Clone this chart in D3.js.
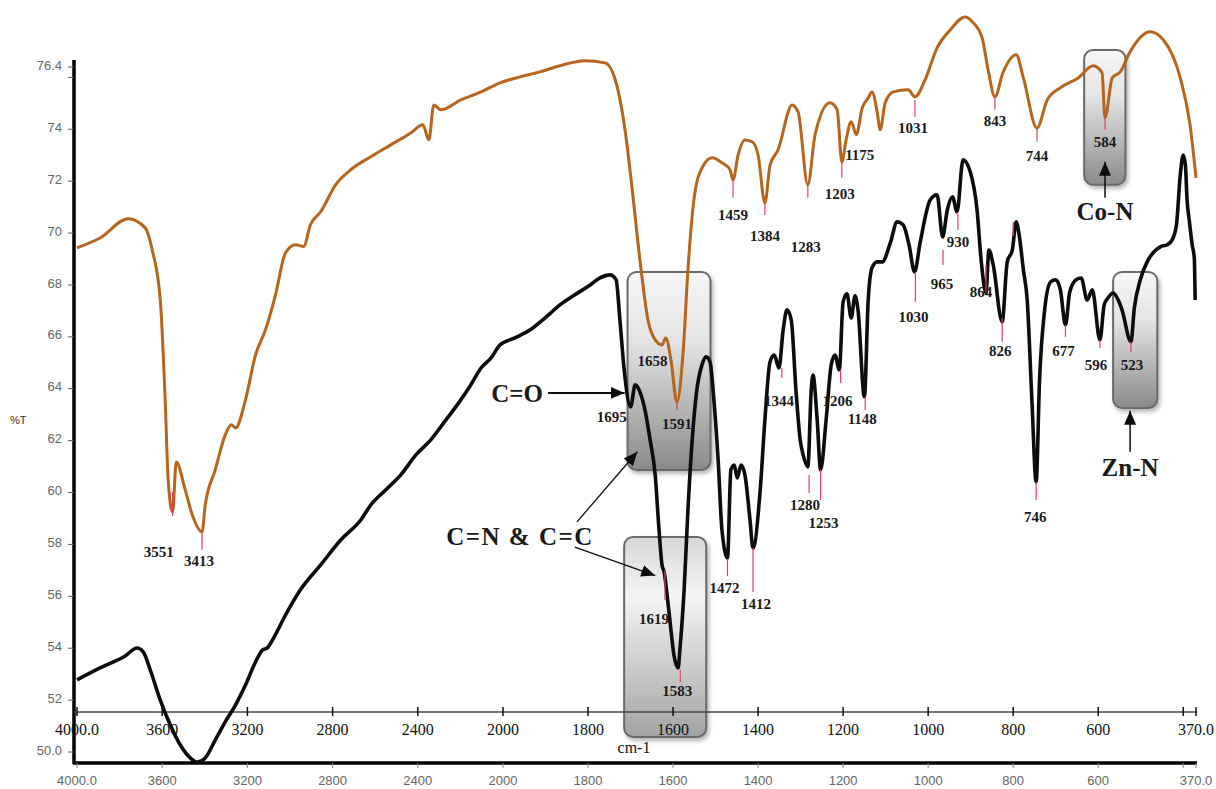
<!DOCTYPE html>
<html>
<head>
<meta charset="utf-8">
<script src="https://cdn.jsdelivr.net/npm/d3@7"></script>
<style>
  body { margin: 0; background: #fff; }
  svg { display: block; }
</style>
</head>
<body>
<div id="chart"></div>
<script>
const COLORS = {
    ORANGE: "#b5651d",
    BLACK: "#0d0d0d",
    PEAK_TICK: "#e0435e",
    LABEL: "#1a1a1a",
    AXIS_GRAY: "#5a5a5a",
    BOX_STROKE: "#6b6b6b"
};

// spectrum 1 (orange, upper) : [wavenumber cm-1, %T]
const orangeSpectrum = [
    [4000,69.43],[3892,69.81],[3760,70.55],[3680,70.20],[3647,69.35],[3609,67.42],[3586,63.57],[3572,60.49],
    [3551,59.25],[3534,61.18],[3492,60.10],[3459,59.14],[3413,58.48],[3398,59.52],[3351,60.87],[3304,62.22],
    [3275,62.61],[3256,62.49],[3209,63.57],[3162,65.30],[3115,66.27],[3068,67.62],[3021,69.24],[2974,69.55],
    [2936,69.48],[2904,70.32],[2856,70.82],[2786,71.86],[2715,72.44],[2621,72.94],[2527,73.40],[2433,73.86],
    [2376,74.17],[2348,73.59],[2325,74.94],[2292,74.75],[2198,75.13],[2103,75.44],[2014,75.79],[1960,76.02],
    [1913,76.21],[1866,76.45],[1807,76.64],[1760,76.56],[1736,75.91],[1713,73.98],[1696,71.67],[1678,68.97],
    [1659,66.65],[1642,65.88],[1626,65.69],[1617,65.96],[1605,65.11],[1591,63.49],[1576,65.50],[1565,68.58],
    [1551,71.28],[1532,72.51],[1508,72.90],[1485,72.71],[1466,72.44],[1459,72.05],[1447,73.01],[1431,73.59],
    [1414,73.52],[1400,73.01],[1384,71.16],[1372,72.61],[1353,73.21],[1320,74.94],[1306,74.67],[1283,71.86],
    [1266,73.79],[1231,75.02],[1214,74.75],[1203,72.74],[1193,73.59],[1181,74.29],[1169,73.79],[1155,74.83],
    [1141,75.21],[1132,75.44],[1120,74.67],[1113,73.98],[1101,75.02],[1082,75.44],[1047,75.52],[1031,75.25],
    [1007,75.91],[979,77.14],[948,77.83],[913,78.33],[896,78.14],[873,77.52],[859,76.29],[843,75.25],
    [824,76.18],[793,76.87],[776,75.98],[744,74.05],[720,75.13],[689,75.60],[647,75.98],[612,76.45],
    [591,76.18],[584,74.44],[567,75.98],[548,76.21],[525,76.99],[478,77.76],[447,77.45],[407,75.98],
    [384,74.17],[370,72.13]
];

// spectrum 2 (black, lower)
const blackSpectrum = [
    [4000,52.78],[3892,53.24],[3774,53.70],[3718,54.01],[3689,53.86],[3656,53.16],[3609,52.00],[3562,51.04],
    [3515,50.27],[3468,49.77],[3435,49.61],[3398,49.77],[3351,50.46],[3304,51.16],[3256,51.81],[3209,52.58],
    [3162,53.47],[3129,53.93],[3106,54.01],[3082,54.32],[3021,55.28],[2951,56.25],[2856,57.21],[2762,58.17],
    [2668,58.94],[2621,59.52],[2551,60.10],[2480,60.68],[2409,61.45],[2339,62.03],[2268,62.80],[2198,63.57],
    [2151,64.15],[2103,64.80],[2056,65.19],[2014,65.69],[1972,65.96],[1936,66.27],[1901,66.73],[1866,67.23],
    [1831,67.62],[1795,68.00],[1772,68.27],[1748,68.39],[1734,68.20],[1725,66.65],[1715,64.73],[1700,63.30],
    [1689,64.15],[1678,63.88],[1666,63.18],[1654,62.03],[1642,60.68],[1633,58.56],[1626,57.21],[1621,56.94],
    [1614,56.05],[1605,54.70],[1598,53.74],[1588,53.24],[1584,53.93],[1574,56.25],[1565,59.33],[1555,62.03],
    [1544,63.96],[1532,64.92],[1522,65.23],[1513,65.03],[1504,63.57],[1494,61.26],[1485,58.56],[1472,57.48],
    [1464,60.87],[1456,61.06],[1449,60.56],[1440,61.06],[1431,60.68],[1419,58.94],[1412,57.86],[1395,60.10],
    [1384,62.80],[1372,65.03],[1362,65.30],[1351,64.80],[1341,66.27],[1332,67.04],[1322,66.65],[1311,63.96],
    [1301,62.03],[1294,61.45],[1283,60.99],[1275,63.96],[1271,64.53],[1261,62.80],[1253,60.87],[1240,62.80],
    [1228,64.92],[1219,65.30],[1209,64.73],[1200,67.35],[1191,67.66],[1181,66.73],[1172,67.58],[1165,67.04],
    [1150,63.69],[1141,67.42],[1132,68.66],[1120,68.89],[1108,68.89],[1089,69.62],[1073,70.43],[1059,70.32],
    [1045,69.55],[1032,68.50],[1019,69.62],[995,71.28],[979,71.47],[966,69.85],[955,70.89],[943,71.40],
    [932,70.82],[918,72.82],[901,72.36],[885,70.89],[875,68.89],[864,67.69],[857,69.35],[847,68.77],
    [826,66.58],[814,68.89],[802,69.35],[793,70.43],[786,69.93],[776,68.58],[767,67.42],[756,63.57],
    [746,60.41],[738,64.34],[726,67.04],[712,68.12],[700,68.20],[689,67.81],[677,66.46],[667,67.73],
    [652,68.20],[640,68.27],[626,67.42],[614,67.81],[596,65.88],[586,67.23],[577,67.50],[565,67.69],
    [553,67.42],[544,67.04],[523,65.81],[515,67.12],[501,68.20],[485,68.89],[471,69.24],[454,69.47],
    [438,69.55],[426,69.74],[416,70.32],[407,72.24],[400,73.01],[395,72.63],[391,71.28],[386,70.51],
    [379,69.55],[374,69.04],[372,67.42]
];

// peak marks: wavenumber, red tick from/to (%T), label %T, label shift
const orangePeaks = [
    {wn: 3551, top: 60.02, bottom: 59.10, labelT: 57.52, dx: -14},
    {wn: 3413, top: 58.48, bottom: 57.79, labelT: 57.17, dx: -3},
    {wn: 1658, top: null,  bottom: null,  labelT: 64.88, dx: 4},
    {wn: 1591, top: 63.49, bottom: 63.18, labelT: 62.45, dx: 0},
    {wn: 1459, top: 72.05, bottom: 71.36, labelT: 70.51, dx: 0},
    {wn: 1384, top: 71.16, bottom: 70.70, labelT: 69.70, dx: 0},
    {wn: 1283, top: 71.86, bottom: 71.36, labelT: 69.28, dx: -2},
    {wn: 1203, top: 72.74, bottom: 72.13, labelT: 71.32, dx: -2},
    {wn: 1175, top: null,  bottom: null,  labelT: 72.82, dx: 6},
    {wn: 1031, top: 75.13, bottom: 74.48, labelT: 73.86, dx: -2},
    {wn: 843,  top: 75.25, bottom: 74.75, labelT: 74.13, dx: 0},
    {wn: 744,  top: 74.05, bottom: 73.52, labelT: 72.78, dx: 0},
    {wn: 584,  top: 74.44, bottom: 73.98, labelT: 73.32, dx: 0}
];

const blackPeaks = [
    {wn: 1695, top: null,  bottom: null,  labelT: 62.72, dx: -21},
    {wn: 1619, top: 57.02, bottom: 55.86, labelT: 54.93, dx: -11},
    {wn: 1583, top: 53.16, bottom: 52.70, labelT: 52.16, dx: -3},
    {wn: 1472, top: 57.40, bottom: 56.78, labelT: 56.13, dx: -3},
    {wn: 1412, top: 57.86, bottom: 56.17, labelT: 55.51, dx: 3},
    {wn: 1344, top: 64.80, bottom: 64.42, labelT: 63.34, dx: -3},
    {wn: 1280, top: 60.68, bottom: 59.98, labelT: 59.33, dx: -4},
    {wn: 1253, top: 60.87, bottom: 59.71, labelT: 58.64, dx: 3},
    {wn: 1206, top: 64.73, bottom: 64.22, labelT: 63.34, dx: -3},
    {wn: 1148, top: 63.69, bottom: 63.18, labelT: 62.64, dx: -3},
    {wn: 1030, top: 68.50, bottom: 67.35, labelT: 66.58, dx: -2},
    {wn: 965,  top: 69.35, bottom: 68.77, labelT: 67.85, dx: -1},
    {wn: 930,  top: 70.74, bottom: 70.12, labelT: 69.47, dx: 0},
    {wn: 864,  top: 68.77, bottom: 67.73, labelT: 67.54, dx: -5},
    {wn: 826,  top: 66.73, bottom: 65.81, labelT: 65.27, dx: -2},
    {wn: 800,  top: 70.43, bottom: 69.89, labelT: null,  dx: 0},
    {wn: 746,  top: 60.41, bottom: 59.71, labelT: 58.87, dx: -1},
    {wn: 677,  top: 66.46, bottom: 66.00, labelT: 65.27, dx: -2},
    {wn: 596,  top: 65.88, bottom: 65.57, labelT: 64.73, dx: -4},
    {wn: 523,  top: 65.81, bottom: 65.42, labelT: 64.73, dx: 1}
];

// highlight boxes: wavenumber range, %T range
const boxes = [
    {from: 1707, to: 1512, top: 68.50, bottom: 60.87, grad: "g1"},
    {from: 1715, to: 1522, top: 58.29, bottom: 50.58, grad: "g2"},
    {from: 633,  to: 536,  top: 77.06, bottom: 71.86, grad: "g1"},
    {from: 565,  to: 461,  top: 68.50, bottom: 63.26, grad: "g1"}
];

// band assignments and their arrows
const bandNotes = [
    {text: "C=O",       wn: 1967, t: 63.49, spacing: 0},
    {text: "C=N & C=C", wn: 1960, t: 57.98, spacing: 1.5},
    {text: "Co-N",      wn: 584,  t: 70.51, spacing: 0},
    {text: "Zn-N",      wn: 525,  t: 60.64, spacing: 0}
];
const bandArrows = [
    {from: [1894, 63.84], to: [1714, 63.84], w: 2},
    {from: [1826, 58.87], to: [1684, 61.57], w: 1.3},
    {from: [1831, 57.90], to: [1642, 56.80], w: 1.3},
    {from: [584, 71.36],  to: [584, 72.75],  w: 1.5},
    {from: [525, 61.57],  to: [525, 63.15],  w: 1.5}
];

const xTicks = [4000, 3600, 3200, 2800, 2400, 2000, 1800, 1600, 1400, 1200, 1000, 800, 600, 400, 370];
const xTickLabels = ["4000.0", "3600", "3200", "2800", "2400", "2000", "1800", "1600", "1400", "1200", "1000", "800", "600", "", "370.0"];
const yTicks = [76.4, 76, 74, 72, 70, 68, 66, 64, 62, 60, 58, 56, 54, 52, 50];
const yTickLabels = ["76.4", "", "74", "72", "70", "68", "66", "64", "62", "60", "58", "56", "54", "52", "50.0"];

const width = 1216, height = 789;
const axisX = 74, innerAxisY = 712, outerAxisY = 763;

// IR style split axis: 4000-2000 compressed, 2000-370 expanded
const x = d3.scaleLinear().domain([4000, 2000, 370]).range([77, 503, 1196]);
const y = d3.scaleLinear().domain([50, 76.4]).range([752, 67]);

const svg = d3.select("#chart").append("svg")
    .attr("width", width)
    .attr("height", height);

const defs = svg.append("defs");
function addGradient(id, stops) {
    const g = defs.append("linearGradient").attr("id", id)
        .attr("x1", 0).attr("y1", 0).attr("x2", 0).attr("y2", 1);
    stops.forEach(([o, c]) => g.append("stop").attr("offset", o).attr("stop-color", c));
}
addGradient("g1", [[0, "#f7f7f7"], [0.35, "#e4e4e4"], [1, "#8a8a8a"]]);
addGradient("g2", [[0, "#d8d8d8"], [0.3, "#f4f4f4"], [1, "#a3a3a3"]]);

const shadow = defs.append("filter").attr("id", "shadow")
    .attr("x", "-20%").attr("y", "-20%").attr("width", "140%").attr("height", "140%");
shadow.append("feDropShadow")
    .attr("dx", 2).attr("dy", 3).attr("stdDeviation", 2)
    .attr("flood-color", "#777").attr("flood-opacity", 0.55);

defs.append("marker")
    .attr("id", "head")
    .attr("viewBox", "0 0 14 12")
    .attr("refX", 14).attr("refY", 6)
    .attr("markerWidth", 14).attr("markerHeight", 12)
    .attr("markerUnits", "userSpaceOnUse")
    .attr("orient", "auto")
    .append("path")
    .attr("d", "M0,0 L14,6 L0,12 Z")
    .attr("fill", COLORS.BLACK);

// boxes
svg.append("g").selectAll("rect")
    .data(boxes)
    .join("rect")
    .attr("x", d => x(d.from))
    .attr("y", d => y(d.top))
    .attr("width", d => x(d.to) - x(d.from))
    .attr("height", d => y(d.bottom) - y(d.top))
    .attr("rx", 9)
    .attr("fill", d => `url(#${d.grad})`)
    .attr("stroke", COLORS.BOX_STROKE)
    .attr("stroke-width", 2)
    .attr("filter", "url(#shadow)");

// y axis
svg.append("line")
    .attr("x1", axisX).attr("x2", axisX)
    .attr("y1", 60).attr("y2", outerAxisY + 1)
    .attr("stroke", "#000").attr("stroke-width", 3.5);

const yAxis = svg.append("g");
yAxis.selectAll("line")
    .data(yTicks)
    .join("line")
    .attr("x1", axisX - 6).attr("x2", axisX)
    .attr("y1", d => y(d)).attr("y2", d => y(d))
    .attr("stroke", COLORS.AXIS_GRAY).attr("stroke-width", 1);
yAxis.selectAll("text")
    .data(yTicks)
    .join("text")
    .attr("x", axisX - 12)
    .attr("y", d => y(d) - 2)
    .attr("dy", "0.35em")
    .attr("text-anchor", "end")
    .attr("font-family", "'Liberation Sans', Arial, sans-serif")
    .attr("font-size", 13)
    .attr("fill", "#666")
    .text((d, i) => yTickLabels[i]);

svg.append("text")
    .attr("x", 10).attr("y", 424)
    .attr("font-family", "'Liberation Sans', Arial, sans-serif")
    .attr("font-size", 11)
    .attr("fill", "#333")
    .text("%T");

// inner (serif) x axis
svg.append("line")
    .attr("x1", axisX).attr("x2", 1197)
    .attr("y1", innerAxisY).attr("y2", innerAxisY)
    .attr("stroke", "#4a4a4a").attr("stroke-width", 1.6);
const innerAxis = svg.append("g");
innerAxis.selectAll("line")
    .data(xTicks)
    .join("line")
    .attr("x1", d => x(d)).attr("x2", d => x(d))
    .attr("y1", innerAxisY - 5).attr("y2", innerAxisY + 4)
    .attr("stroke", "#111").attr("stroke-width", 1.5);
innerAxis.selectAll("text")
    .data(xTicks)
    .join("text")
    .attr("x", d => x(d))
    .attr("y", innerAxisY + 23)
    .attr("text-anchor", "middle")
    .attr("font-family", "'Liberation Serif', 'Times New Roman', serif")
    .attr("font-size", 16)
    .attr("fill", "#111")
    .text((d, i) => xTickLabels[i]);
svg.append("text")
    .attr("x", 634).attr("y", 753)
    .attr("text-anchor", "middle")
    .attr("font-family", "'Liberation Serif', 'Times New Roman', serif")
    .attr("font-size", 16)
    .attr("fill", "#111")
    .text("cm-1");

// outer (sans) x axis
svg.append("line")
    .attr("x1", axisX - 1).attr("x2", 1197)
    .attr("y1", outerAxisY).attr("y2", outerAxisY)
    .attr("stroke", "#000").attr("stroke-width", 3.5);
const outerAxis = svg.append("g");
outerAxis.selectAll("line")
    .data(xTicks)
    .join("line")
    .attr("x1", d => x(d)).attr("x2", d => x(d))
    .attr("y1", outerAxisY).attr("y2", outerAxisY + 5)
    .attr("stroke", "#888").attr("stroke-width", 1);
outerAxis.selectAll("text")
    .data(xTicks)
    .join("text")
    .attr("x", d => x(d))
    .attr("y", outerAxisY + 22)
    .attr("text-anchor", "middle")
    .attr("font-family", "'Liberation Sans', Arial, sans-serif")
    .attr("font-size", 13)
    .attr("fill", "#666")
    .text((d, i) => xTickLabels[i]);

// spectra
const line = d3.line()
    .x(d => x(d[0]))
    .y(d => y(d[1]))
    .curve(d3.curveMonotoneX);

svg.append("path")
    .datum(orangeSpectrum)
    .attr("d", line)
    .attr("fill", "none")
    .attr("stroke", COLORS.ORANGE)
    .attr("stroke-width", 3)
    .attr("stroke-linejoin", "round");

svg.append("path")
    .datum(blackSpectrum)
    .attr("d", line)
    .attr("fill", "none")
    .attr("stroke", COLORS.BLACK)
    .attr("stroke-width", 3.6)
    .attr("stroke-linejoin", "round");

// peak ticks + labels
function drawPeaks(peaks) {
    const g = svg.append("g");
    g.selectAll("line")
        .data(peaks.filter(p => p.top !== null))
        .join("line")
        .attr("x1", d => x(d.wn)).attr("x2", d => x(d.wn))
        .attr("y1", d => y(d.top)).attr("y2", d => y(d.bottom))
        .attr("stroke", COLORS.PEAK_TICK)
        .attr("stroke-width", 1.2);
    g.selectAll("text")
        .data(peaks.filter(p => p.labelT !== null))
        .join("text")
        .attr("x", d => x(d.wn) + d.dx)
        .attr("y", d => y(d.labelT))
        .attr("text-anchor", "middle")
        .attr("font-family", "'Liberation Serif', 'Times New Roman', serif")
        .attr("font-weight", "bold")
        .attr("font-size", 15)
        .attr("fill", COLORS.LABEL)
        .text(d => d.wn);
}
drawPeaks(orangePeaks);
drawPeaks(blackPeaks);

// arrows
svg.append("g").selectAll("line")
    .data(bandArrows)
    .join("line")
    .attr("x1", d => x(d.from[0])).attr("y1", d => y(d.from[1]))
    .attr("x2", d => x(d.to[0])).attr("y2", d => y(d.to[1]))
    .attr("stroke", COLORS.BLACK)
    .attr("stroke-width", d => d.w)
    .attr("marker-end", "url(#head)");

svg.append("g").selectAll("text")
    .data(bandNotes)
    .join("text")
    .attr("x", d => x(d.wn))
    .attr("y", d => y(d.t))
    .attr("text-anchor", "middle")
    .attr("font-family", "'Liberation Serif', 'Times New Roman', serif")
    .attr("font-weight", "bold")
    .attr("font-size", 25)
    .attr("letter-spacing", d => d.spacing)
    .attr("fill", "#1a1a1a")
    .text(d => d.text);
</script>
</body>
</html>
